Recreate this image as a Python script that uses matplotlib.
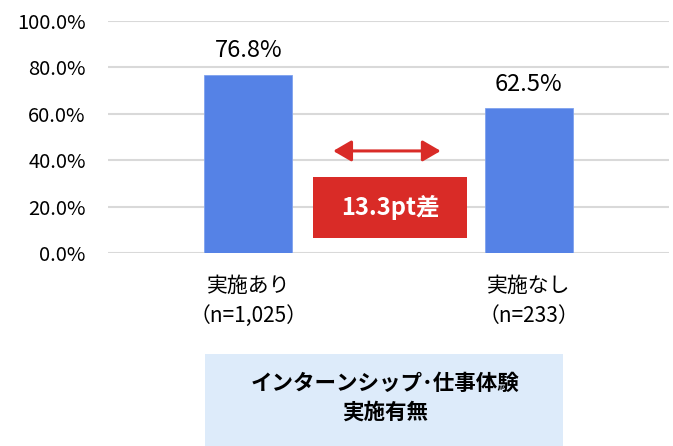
"""
インターンシップ・仕事体験 実施有無別 の棒グラフ
"""
import matplotlib
matplotlib.use("Agg")
import matplotlib.pyplot as plt
from matplotlib.patches import Rectangle, FancyArrowPatch
from matplotlib.ticker import PercentFormatter

plt.rcParams['font.family'] = ['Noto Sans CJK JP', 'DejaVu Sans']

# données
categories = ['実施あり', '実施なし']
sample_sizes = ['（n=1,025）', '（n=233）']
rates = [76.8, 62.5]
diff_label = '13.3pt差'
group_title = 'インターンシップ･仕事体験\n実施有無'
y_ticks = [0, 20, 40, 60, 80, 100]

BAR_COLOR = '#5582E6'
RED = '#D92B27'
BOX_BLUE = '#DDEBFA'

fig = plt.figure(figsize=(6.73, 4.46), dpi=100)
ax = fig.add_axes([0.1605, 0.4327, 0.8335, 0.5202])

x = list(range(len(categories)))
ax.bar(x, rates, width=0.315, color=BAR_COLOR, edgecolor='#7FA2EE', lw=0.6, zorder=3)

for xi, v in zip(x, rates):
    ax.annotate(f"{v:.1f}%", (xi, v), xytext=(0, 9), textcoords='offset points',
                ha='center', va='bottom', fontsize=17, color='black')

ax.set_xlim(-0.5, 1.5)
ax.set_ylim(0, 100)
ax.set_yticks(y_ticks)
ax.yaxis.set_major_formatter(PercentFormatter(decimals=1))
ax.grid(axis='y', color='#D9D9D9', lw=1.5, zorder=0)
ax.set_axisbelow(True)
for s in ax.spines.values():
    s.set_visible(False)
ax.tick_params(axis='y', length=0, pad=16, labelsize=14.5)
ax.set_xticks(x)
ax.set_xticklabels([f"{c}\n{n}" for c, n in zip(categories, sample_sizes)],
                   fontsize=15, linespacing=1.45)
ax.tick_params(axis='x', length=0, pad=16)

# flèche et encadré de l'écart
arrow = FancyArrowPatch((0.293, 44), (0.696, 44),
                        arrowstyle='<|-|>,head_length=0.55,head_width=0.32',
                        mutation_scale=20, color=RED, lw=2.2, zorder=4)
ax.add_patch(arrow)
ax.add_patch(Rectangle((0.232, 6.5), 0.547, 26.3, facecolor=RED, edgecolor='none', zorder=4))
ax.text(0.5055, 19.6, diff_label, ha='center', va='center', fontsize=17,
        fontweight='bold', color='white', zorder=5)

# encadré bleu du bas
fig.patches.append(Rectangle((0.3046, 0.0), 0.532, 0.206, transform=fig.transFigure,
                             facecolor=BOX_BLUE, edgecolor='none', zorder=0))
fig.text(0.572, 0.108, group_title, ha='center', va='center', fontsize=15.5,
         fontweight='bold', linespacing=1.4)

plt.savefig('out.png', dpi=100)
